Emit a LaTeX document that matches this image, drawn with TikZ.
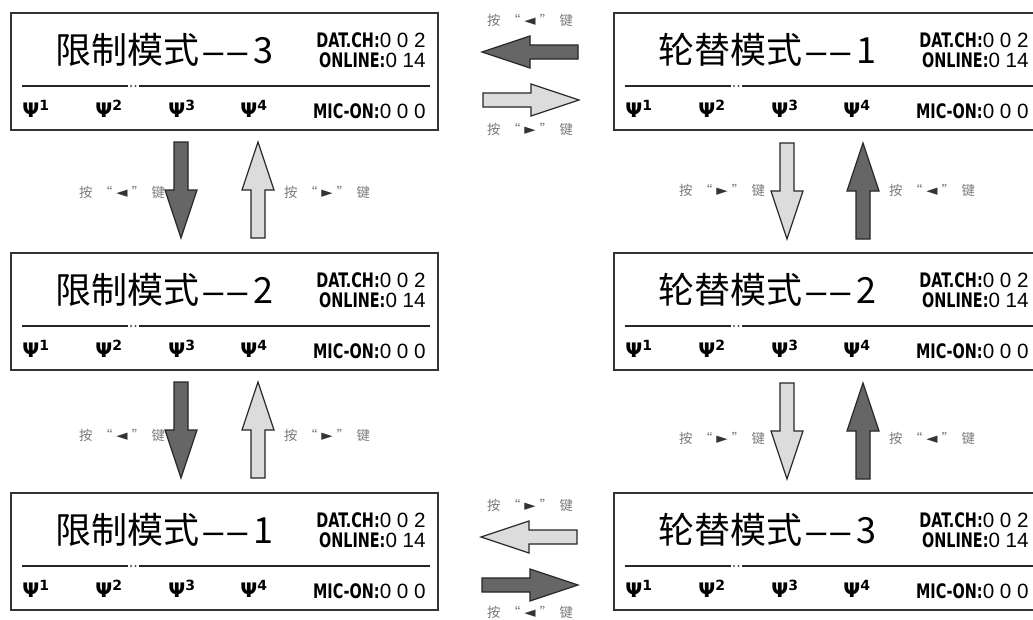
\documentclass[tikz,border=0pt]{standalone}
\usepackage{fontspec}
\usepackage{xcolor}
\usepackage{tikz}
\usetikzlibrary{calc}
\newfontfamily\cjkfont{Noto Sans CJK SC}
\newfontfamily\lcdfont[FakeStretch=0.72]{DejaVu Sans Bold}
\newfontfamily\antfont{DejaVu Sans Bold}
\newfontfamily\digfont{Liberation Sans}
\newfontfamily\symfont{DejaVu Sans}
\definecolor{darkfill}{HTML}{666666}
\definecolor{lightfill}{HTML}{DCDCDC}
\definecolor{keygray}{HTML}{7A7A7A}
\tikzset{
  lcd/.style={draw=black!80,line width=1.3pt,fill=white,minimum width=427*0.75pt,minimum height=117*0.75pt,anchor=north west,inner sep=0pt},
  title/.style={font=\cjkfont\fontsize{27}{27}\selectfont,anchor=west,inner sep=0pt},
  info/.style={font=\lcdfont\fontsize{15}{15}\selectfont,anchor=base east,inner sep=0pt,text height=11pt,text depth=0pt},
  ant/.style={font=\antfont\fontsize{15}{15}\selectfont,anchor=base west,inner sep=0pt,text height=11pt,text depth=0pt},
  sepline/.style={line width=2.2pt,black!85},
  keylab/.style={font=\cjkfont\fontsize{10}{10}\selectfont,text=keygray,inner sep=0pt},
  darkarr/.style={fill=darkfill,draw=black!85,line width=0.9pt},
  lightarr/.style={fill=lightfill,draw=black!85,line width=0.9pt},
  pics/fatarrow/.style={code={\draw[pic actions] (0,-7)--(48,-7)--(48,-16)--(96,0)--(48,16)--(48,7)--(0,7)--cycle;}}
}
\newcommand{\dig}[1]{{\digfont\fontsize{15.5}{15.5}\selectfont #1}}
\newcommand{\keyL}{按\hspace{5pt}“\hspace{3pt}{\symfont\fontsize{11}{11}\selectfont\color{black!80}◄}\hspace{3pt}”\hspace{5pt}键}
\newcommand{\keyR}{按\hspace{5pt}“\hspace{3pt}{\symfont\fontsize{11}{11}\selectfont\color{black!80}►}\hspace{3pt}”\hspace{5pt}键}

\begin{document}
\begin{tikzpicture}[x=0.75pt,y=-0.75pt]
\useasboundingbox (0,0) rectangle (1033,619);
\clip (0,0) rectangle (1033,619);
\fill[white] (0,0) rectangle (1033,619);
% the six displays
\foreach \b/\x/\y/\t/\m in {lim3/10/12/限制模式/3,lim2/10/252/限制模式/2,lim1/10/492/限制模式/1,
  rot1/613/12/轮替模式/1,rot2/613/252/轮替模式/2,rot3/613/492/轮替模式/3}{
  \node[lcd] (\b) at (\x,\y) {};
  \node[title] (\b-t) at ($(\b.north west)+(45,38)$) {\t{\digfont\hspace{3pt}–\hspace{3pt}–\hspace{5pt}}\m};
  \node[info] (\b-dat) at ($(\b.north west)+(416,35)$) {DAT.CH:\dig{0 0 2}};
  \node[info] (\b-onl) at ($(\b.north west)+(416,55)$) {ONLINE:\dig{0 14}};
  \draw[sepline] ($(\b.north west)+(12,74)$) -- ($(\b.north west)+(118,74)$);
  \draw[sepline] ($(\b.north west)+(129,74)$) -- ($(\b.north west)+(420,74)$);
  \fill[black!70] ($(\b.north west)+(121,74)$) circle (1.2) ($(\b.north west)+(125.5,74)$) circle (1.2);
  \foreach \n/\dx in {1/12,2/85,3/158,4/230}
    \node[ant] (\b-a\n) at ($(\b.north west)+(\dx,105)$) {Ψ\textsuperscript{\n}};
  \node[info] (\b-mic) at ($(\b.north west)+(416,106)$) {MIC-ON:\dig{0 0 0}};
}
% arrows between displays
\pic[darkarr,rotate=180] at (578,52) {fatarrow};
\pic[lightarr] at (483,100) {fatarrow};
\pic[lightarr,rotate=180] at (577,537) {fatarrow};
\pic[darkarr] at (482,585) {fatarrow};
\foreach \y in {0,240}{
  \pic[darkarr,rotate=-90] at (181,142+\y) {fatarrow};
  \pic[lightarr,rotate=90] at (258,238+\y) {fatarrow};
  \pic[lightarr,rotate=-90] at (787,143+\y) {fatarrow};
  \pic[darkarr,rotate=90] at (863,239+\y) {fatarrow};
}
% key labels
\node[keylab] (k1) at (530,20) {\keyL};
\node[keylab] (k2) at (530,129) {\keyR};
\node[keylab] (k3) at (530,505) {\keyR};
\node[keylab] (k4) at (530,612) {\keyL};
\node[keylab] (k5) at (122,192) {\keyL};
\node[keylab] (k6) at (327,192) {\keyR};
\node[keylab] (k7) at (122,435) {\keyL};
\node[keylab] (k8) at (327,435) {\keyR};
\node[keylab] (k9) at (722,190) {\keyR};
\node[keylab] (k10) at (932,190) {\keyL};
\node[keylab] (k11) at (722,438) {\keyR};
\node[keylab] (k12) at (932,438) {\keyL};
\end{tikzpicture}
\end{document}
